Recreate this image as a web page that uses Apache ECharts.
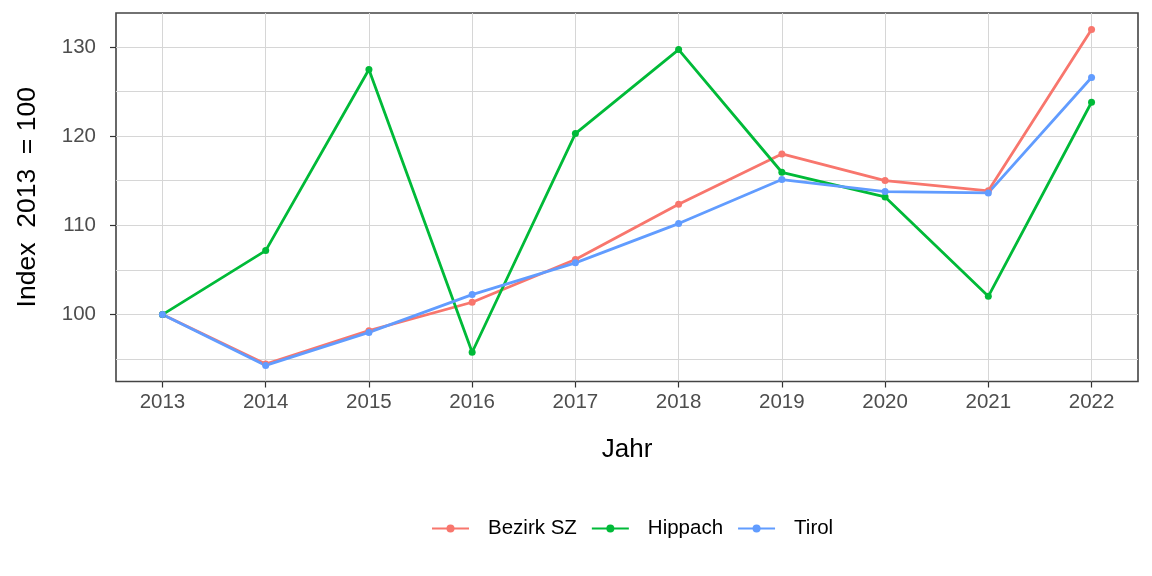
<!DOCTYPE html>
<html>
<head>
<meta charset="utf-8">
<script src="https://cdn.jsdelivr.net/npm/echarts@6/dist/echarts.min.js"></script>
<style>
html,body{margin:0;padding:0;background:#fff;}
#chart{width:1152px;height:576px;}
</style>
</head>
<body>
<div id="chart"></div>
<script>
const years = [2013, 2014, 2015, 2016, 2017, 2018, 2019, 2020, 2021, 2022];
const bezirkSZ = [100, 94.45, 98.2, 101.38, 106.17, 112.37, 118.0, 115.02, 113.87, 131.95];
const hippach = [100, 107.17, 127.47, 95.78, 120.29, 129.7, 115.95, 113.19, 102.05, 123.8];
const tirol = [100, 94.3, 98.0, 102.24, 105.8, 110.2, 115.13, 113.79, 113.64, 126.57];
const seriesNames = ['Bezirk SZ', 'Hippach', 'Tirol'];
const colors = ['#F8766D', '#00BA38', '#619CFF'];
const xTitle = 'Jahr';
const yTitle = 'Index  2013  = 100';

const FONT = 'Liberation Sans, Arial, sans-serif';
const chart = echarts.init(document.getElementById('chart'), null, {renderer: 'canvas'});

function mk(name, vals, color) {
  return {
    name: name,
    type: 'line',
    data: years.map((y, i) => [y, vals[i]]),
    symbol: 'circle',
    symbolSize: 7,
    lineStyle: {color: color, width: 2.8},
    itemStyle: {color: color},
    emphasis: {disabled: true},
    animation: false
  };
}

const option = {
  animation: false,
  color: colors,
  grid: {
    left: 116, top: 13, width: 1022, height: 368.5,
    show: true, borderColor: '#444444', borderWidth: 1.6, backgroundColor: 'transparent',
    containLabel: false
  },
  legend: {
    bottom: 32,
    left: 426,
    itemWidth: 37,
    itemHeight: 10,
    itemGap: 14,
    textStyle: {fontFamily: FONT, fontSize: 20.5, color: '#000', padding: [0, 0, 0, 14]},
    data: seriesNames
  },
  xAxis: {
    type: 'value',
    min: 2012.55, max: 2022.45,
    minInterval: 1, maxInterval: 1,
    name: xTitle,
    nameLocation: 'middle',
    nameGap: 55,
    nameTextStyle: {fontFamily: FONT, fontSize: 26, color: '#000'},
    axisLine: {show: false},
    axisTick: {show: true, length: 6, lineStyle: {color: '#333333', width: 1.2}},
    axisLabel: {
      fontFamily: FONT, fontSize: 20.5, color: '#4d4d4d', margin: 10,
      showMinLabel: false, showMaxLabel: false,
      formatter: v => (Math.abs(v - Math.round(v)) < 1e-6 ? String(Math.round(v)) : '')
    },
    splitLine: {show: true, showMinLine: false, showMaxLine: false, lineStyle: {color: '#d6d6d6', width: 1}}
  },
  yAxis: [{
    type: 'value',
    min: 92.5, max: 133.8,
    minInterval: 10, maxInterval: 10,
    name: yTitle,
    nameLocation: 'middle',
    nameGap: 75,
    nameTextStyle: {fontFamily: FONT, fontSize: 26.5, color: '#000'},
    axisLine: {show: false},
    axisTick: {show: true, length: 6, lineStyle: {color: '#333333', width: 1.2}},
    axisLabel: {
      fontFamily: FONT, fontSize: 20.5, color: '#4d4d4d', margin: 20,
      showMinLabel: false, showMaxLabel: false,
      formatter: v => (Math.abs(v % 10) < 1e-6 ? String(Math.round(v)) : '')
    },
    splitLine: {show: false}
  }, {
    type: 'value',
    position: 'left',
    min: 92.5, max: 133.8,
    minInterval: 5, maxInterval: 5,
    axisLine: {show: false},
    axisTick: {show: false},
    axisLabel: {show: false},
    splitLine: {show: true, showMinLine: false, showMaxLine: false, lineStyle: {color: '#d6d6d6', width: 1}}
  }],
  series: [
    mk(seriesNames[0], bezirkSZ, colors[0]),
    mk(seriesNames[1], hippach, colors[1]),
    mk(seriesNames[2], tirol, colors[2])
  ]
};
chart.setOption(option);
</script>
</body>
</html>
